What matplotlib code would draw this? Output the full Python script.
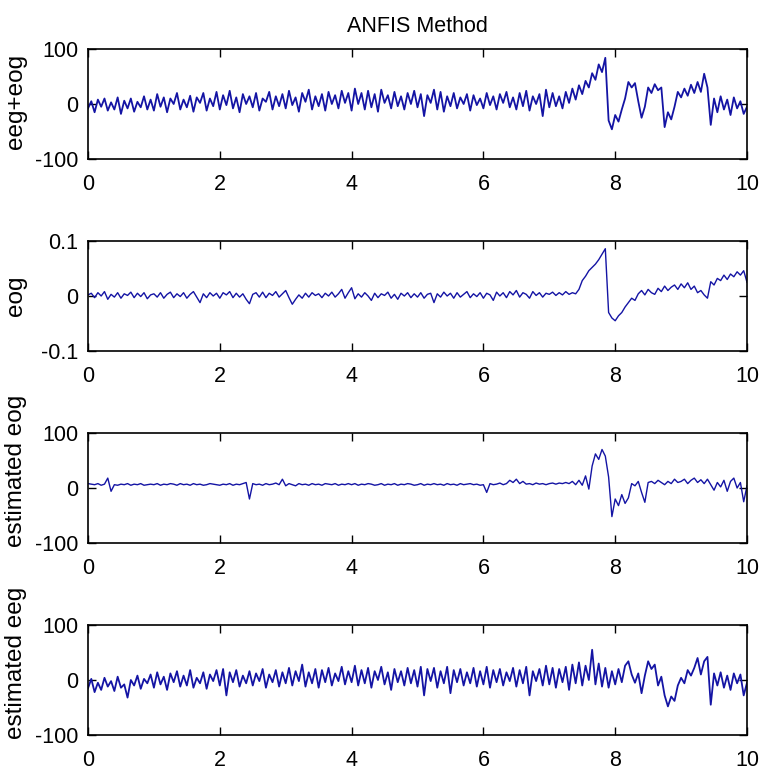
import numpy as np
import matplotlib
matplotlib.use("Agg")
import matplotlib.pyplot as plt

plt.rcParams["font.family"] = ["Liberation Sans", "DejaVu Sans"]
plt.rcParams["axes.unicode_minus"] = False

# ---- data (one sample every 0.05 s) ----
STEP = 0.05

eeg_eog = [
    -8, 5, -15, 8, -5, 10, -12, 3, -10, 12, -18, 6, -8, 10, -14, 4, -6, 14, -10, 8,
    -12, 18, -5, 12, -15, 10, 0, 20, -10, 8, -6, 15, -14, 12, 2, 20, -12, 10, -4, 22,
    -10, 16, -2, 24, -8, 12, -15, 18, 0, 14, -6, 20, -12, 10, 4, 22, -10, 14, -4, 18,
    -8, 24, -2, 12, -14, 20, 4, 26, -10, 14, -4, 18, -12, 22, 0, 16, -8, 24, 2, 20,
    -12, 28, 0, 20, -10, 24, -6, 18, -14, 26, 2, 16, -8, 22, -4, 14, -10, 20, 0, 24,
    -6, 18, -22, 16, 2, 26, -10, 22, -14, 14, -4, 20, -8, 12, 0, 18, -12, 16, -2, 10,
    -8, 20, -2, 14, -10, 18, 2, 22, -6, 12, -10, 20, -4, 24, -12, 14, 0, 18, -22, 26,
    -6, 20, -4, 14, -8, 22, 2, 28, 8, 34, 18, 42, 30, 56, 44, 72, 58, 84, -30, -46,
    -20, -32, -10, 10, 40, 30, 38, 5, -25, -5, 30, 20, 36, 25, 30, -42, -15, -28, -5, 22,
    12, 28, 15, 35, 20, 40, 22, 55, 30, -38, 10, -15, 14, -10, 8, -20, 12, -8, 5, -18,
    -5,
]

eog = [
    0.002, 0.005, -0.003, 0.006, 0.000, 0.008, -0.006, 0.003, -0.002, 0.006,
    -0.004, 0.004, 0.001, 0.007, -0.003, 0.005, -0.001, 0.006, -0.005, 0.002,
    0.004, -0.002, 0.006, -0.004, 0.003, 0.007, -0.003, 0.004, -0.001, 0.006,
    -0.004, 0.003, 0.008, -0.002, -0.012, 0.004, -0.003, 0.006, 0.000, 0.005,
    -0.004, 0.006, 0.002, 0.008, -0.003, 0.005, -0.002, 0.004, -0.006, -0.014,
    0.003, 0.006, -0.002, 0.007, -0.003, 0.005, 0.001, 0.008, -0.002, 0.004,
    0.010, -0.003, -0.015, -0.006, 0.002, -0.004, 0.005, -0.002, 0.006, 0.001,
    0.004, -0.003, 0.005, 0.000, 0.007, -0.002, 0.004, 0.012, -0.004, 0.006,
    0.015, -0.005, 0.004, -0.002, 0.006, 0.000, -0.008, 0.005, -0.003, 0.004,
    0.001, 0.007, -0.004, 0.003, -0.006, 0.005, 0.000, 0.006, -0.003, 0.004,
    -0.002, 0.006, -0.004, 0.003, 0.005, -0.012, 0.004, -0.002, 0.007, 0.000,
    0.005, -0.004, 0.006, -0.002, 0.003, 0.008, -0.003, 0.004, -0.001, 0.006,
    -0.004, 0.005, 0.002, -0.008, 0.007, 0.000, 0.006, -0.003, 0.008, 0.002,
    0.010, -0.002, 0.006, 0.003, -0.004, 0.008, 0.001, 0.006, -0.002, 0.005,
    0.003, 0.007, 0.001, 0.006, 0.002, 0.008, 0.003, 0.006, 0.004, 0.012,
    0.028, 0.036, 0.046, 0.052, 0.058, 0.066, 0.076, 0.086, -0.030, -0.040,
    -0.045, -0.036, -0.030, -0.020, -0.012, -0.004, -0.008, 0.004, 0.010, 0.002,
    0.012, 0.006, 0.003, 0.014, 0.008, 0.018, 0.010, 0.016, 0.020, 0.012,
    0.022, 0.015, 0.024, 0.012, 0.018, 0.006, 0.010, 0.002, -0.004, 0.026,
    0.020, 0.032, 0.028, 0.038, 0.030, 0.040, 0.035, 0.044, 0.038, 0.046,
    0.025,
]

est_eog = [
    8, 7, 6, 8, 5, 7, 18, -6, 6, 5, 7, 6, 8, 5, 7, 6, 8, 5, 6, 7,
    6, 8, 5, 7, 6, 8, 7, 5, 8, 6, 7, 5, 8, 6, 7, 5, 6, 8, 7, 6,
    5, 7, 6, 8, 5, 7, 6, 8, 10, -20, 8, 6, 7, 5, 8, 6, 7, 9, 6, 16,
    4, 8, 6, 4, 8, 6, 7, 5, 8, 6, 7, 5, 8, 7, 6, 8, 5, 7, 6, 8,
    6, 8, 5, 7, 6, 8, 7, 5, 6, 8, 5, 7, 6, 8, 5, 7, 6, 8, 7, 5,
    6, 8, 5, 7, 6, 8, 6, 7, 5, 8, 6, 7, 5, 8, 6, 7, 8, 6, 7, 5,
    6, -8, 8, 6, 7, 9, 6, 8, 14, 10, 16, 8, 12, 7, 8, 6, 9, 7, 8, 6,
    8, 9, 7, 9, 8, 10, 8, 12, 6, 14, 5, 22, -2, 40, 62, 52, 70, 58, 20, -52,
    -20, -32, -12, -28, -18, 8, 4, 12, -8, -26, 10, 12, 8, 14, 10, 6, 12, 8, 16, 10,
    12, 16, 8, 14, 18, 10, 15, 8, 16, 6, -4, 10, 2, 14, -6, 12, 18, 0, 10, -25,
    4,
]

est_eeg = [
    -15, 2, -22, -5, -18, 4, -12, -2, -20, 6, -14, -8, -32, 0, -10, 8, -16, 2, -6, 10,
    -14, 14, -8, 6, -18, 12, -4, 16, -12, 8, -10, 18, -14, 4, -6, 14, -16, 10, -2, 18,
    -10, 20, -28, 14, -4, 18, -12, 8, -6, 16, -10, 12, -2, 20, -14, 10, -4, 18, -12, 14,
    -6, 22, -10, 16, -2, 28, -12, 14, -6, 20, -14, 18, -4, 22, -10, 12, -2, 24, -8, 16,
    -4, 26, -10, 18, -6, 22, -14, 16, 0, 24, -8, 14, -18, 20, -4, 16, -10, 22, -6, 18,
    -12, 24, -28, 20, -2, 22, -14, 16, -6, 24, -24, 18, -4, 20, -10, 14, -6, 22, -12, 16,
    -8, 24, -14, 18, -4, 20, -10, 14, -2, 22, -12, 18, -6, 24, -28, 16, -2, 20, -10, 26,
    -8, 22, -14, 20, -4, 24, -18, 28, -6, 32, -10, 26, 0, 55, -8, 30, -12, 22, -14, 16,
    -8, 20, -4, 26, 34, 10, -5, 12, -24, 8, 34, 20, 28, -10, 6, -28, -48, -30, -38, -10,
    4, -6, 18, 8, 22, 40, 10, 34, 42, -45, 12, -10, 14, -14, 8, -18, 12, -6, 10, -28,
    -5,
]

series = [eeg_eog, eog, est_eog, est_eeg]
ylabels = ["eeg+eog", "eog", "estimated eog", "estimated eeg"]
ylims = [(-100, 100), (-0.1, 0.1), (-100, 100), (-100, 100)]
yticks = [[-100, 0, 100], [-0.1, 0, 0.1], [-100, 0, 100], [-100, 0, 100]]
yticklabels = [["-100", "0", "100"], ["-0.1", "0", "0.1"],
               ["-100", "0", "100"], ["-100", "0", "100"]]
label_y = [0.52, 0.5, 0.66, 0.66]          # ylabel centre, axes fraction
xticks = [0, 2, 4, 6, 8, 10]
line_w = [1.3, 1.0, 1.0, 1.3]              # noisy traces drawn heavier, like the dense original

LINE = "#1414a4"

fig = plt.figure(figsize=(7.68, 7.79), dpi=100)
W, H = 768, 779
left, right = 88, 747
tops = [49, 241, 433, 625]
ph = 110

for i, vals in enumerate(series):
    t = np.arange(len(vals)) * STEP
    ax = fig.add_axes([left / W, 1 - (tops[i] + ph) / H, (right - left) / W, ph / H])
    ax.plot(t, vals, color=LINE, lw=line_w[i])
    ax.set_xlim(0, 10); ax.set_ylim(*ylims[i])
    ax.set_xticks(xticks); ax.set_xticklabels([str(x) for x in xticks])
    ax.set_yticks(yticks[i]); ax.set_yticklabels(yticklabels[i])
    ax.tick_params(direction="in", length=6, width=1, top=True, right=True, labelsize=15.5)
    ax.tick_params(axis="x", pad=11)
    ax.tick_params(axis="y", pad=7)
    for s in ax.spines.values():
        s.set_linewidth(1.2)
    ax.set_ylabel(ylabels[i], fontsize=17.5)
    ax.yaxis.set_label_coords(-0.092, label_y[i])
    if i == 0:
        ax.set_title("ANFIS Method", fontsize=15.5, pad=12)

fig.savefig("out.png", dpi=100)
